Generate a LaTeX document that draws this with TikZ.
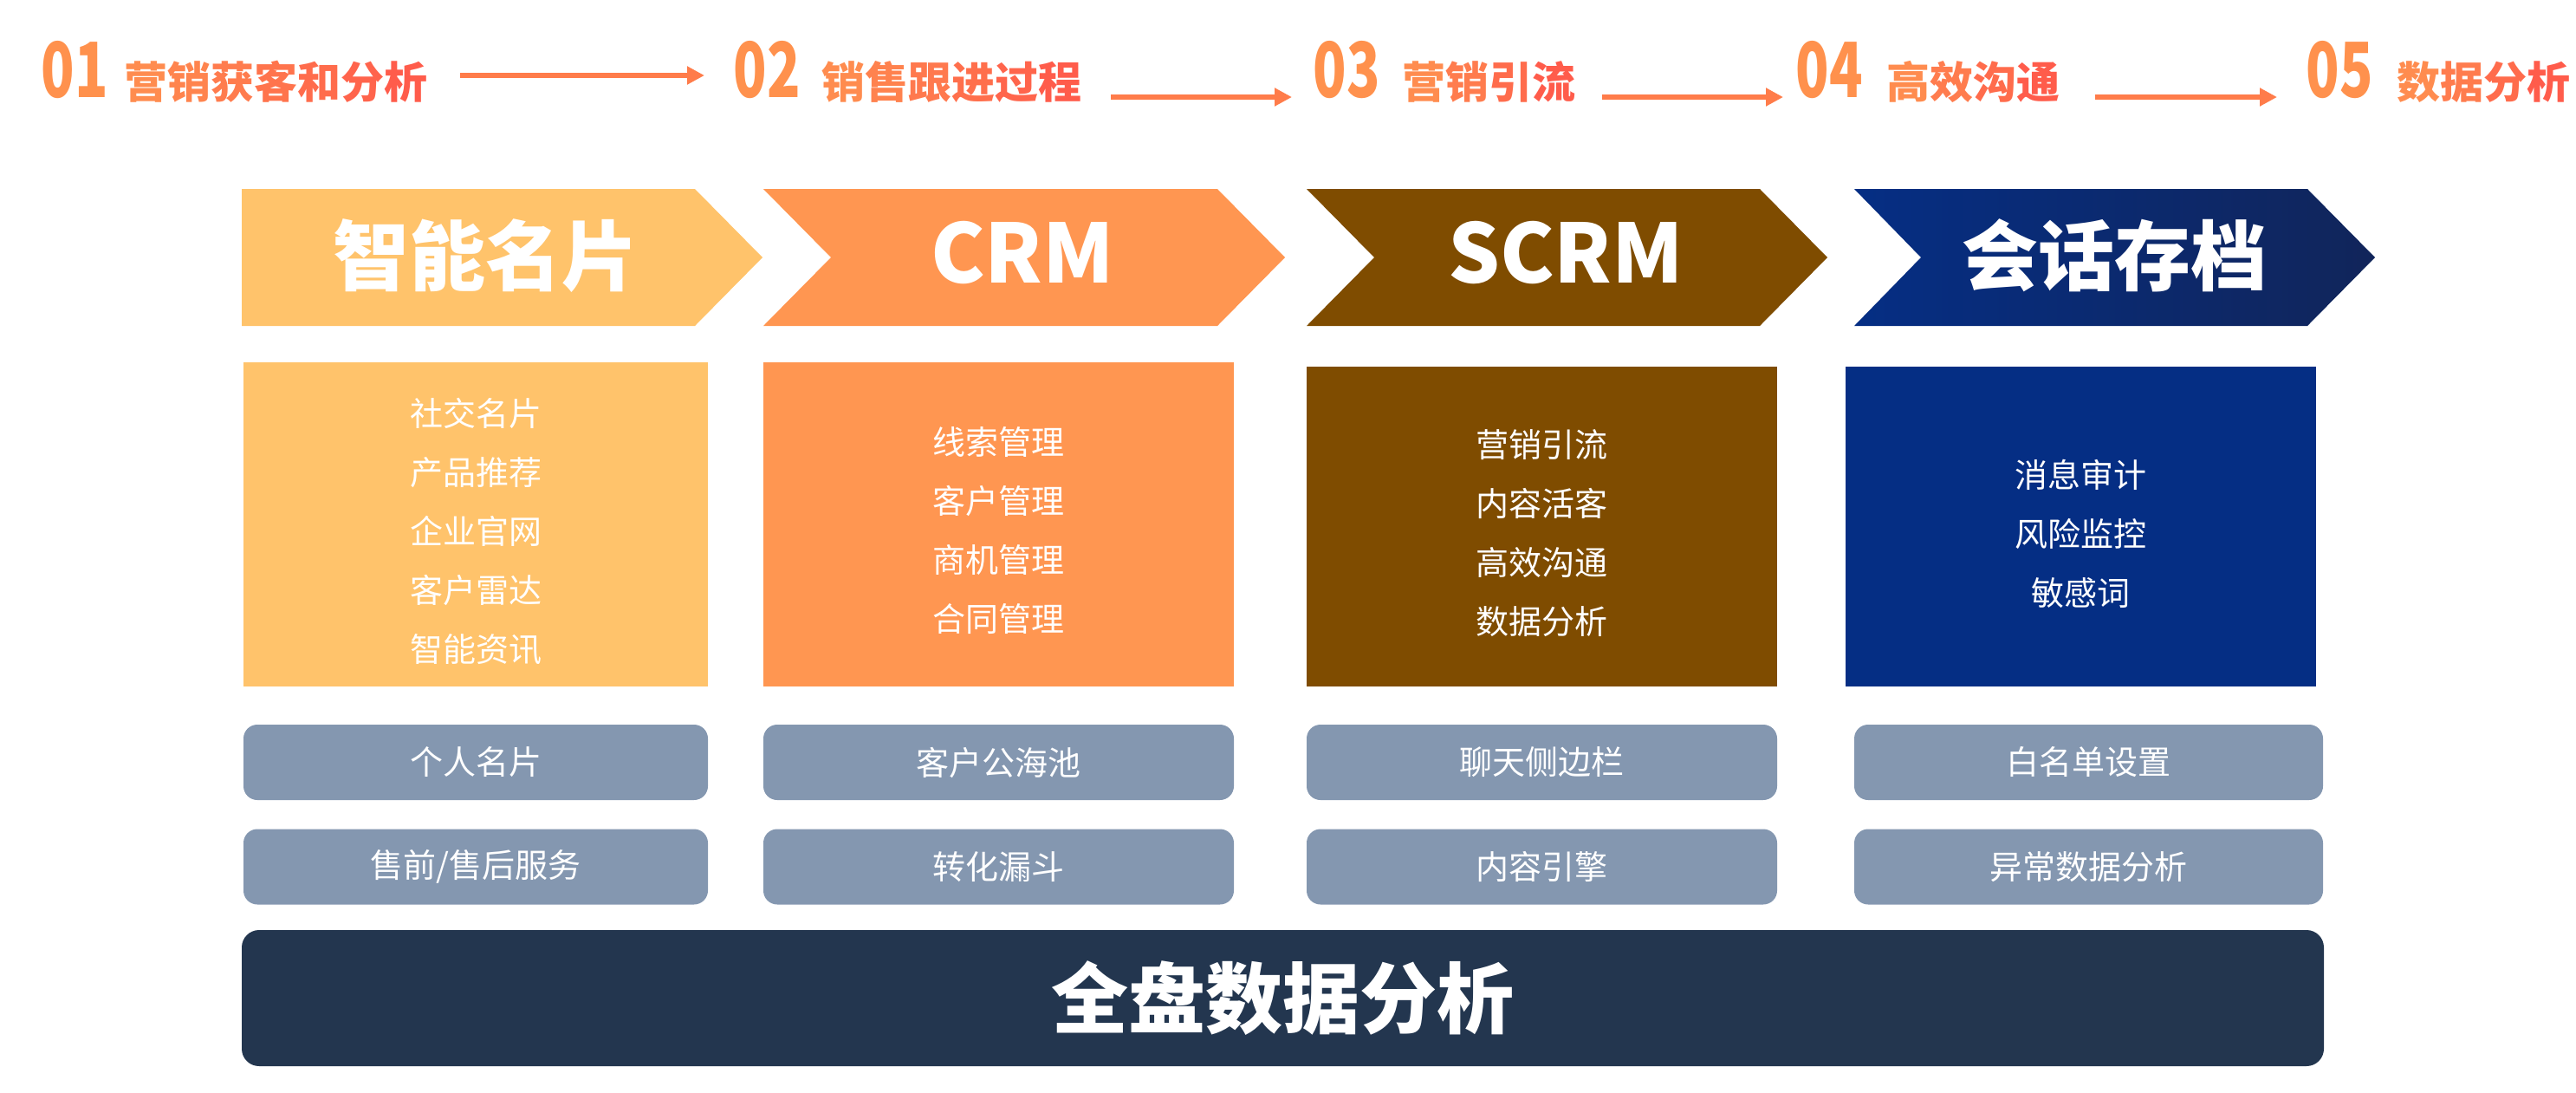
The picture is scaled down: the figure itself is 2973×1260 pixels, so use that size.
\documentclass[tikz,border=0pt]{standalone}
\usepackage{fontspec}
\setmainfont{Noto Sans CJK SC}
\usetikzlibrary{arrows.meta}
\definecolor{numc}{HTML}{FF914D}
\definecolor{gA}{HTML}{FF8C4F}
\definecolor{gB}{HTML}{FF5C4B}
\definecolor{arrc}{HTML}{FF7C4A}
\definecolor{yel}{HTML}{FFC36B}
\definecolor{org}{HTML}{FF9651}
\definecolor{brn}{HTML}{7F4C00}
\definecolor{navy}{HTML}{052E84}
\definecolor{navyR}{HTML}{11255A}
\definecolor{btnc}{HTML}{8497B0}
\definecolor{barc}{HTML}{23364F}
\newcommand{\gch}[2]{\textcolor{gB!#1!gA}{#2}}
\begin{document}
\begin{tikzpicture}[x=0.5pt,y=-0.5pt,
  num/.style={text=numc, font=\fontsize{44}{44}\selectfont\bfseries, inner sep=0},
  ttl/.style={font=\fontsize{25}{25}\selectfont\bfseries, inner sep=0},
  flow/.style={draw=arrc, line width=3pt, -{Triangle[length=10pt,width=10pt]}},
  chevtitle/.style={text=white, font=\fontsize{44}{44}\selectfont\bfseries, inner sep=0},
  latintitle/.style={text=white, font=\fontsize{47}{47}\selectfont\bfseries, inner sep=0},
  item/.style={text=white, font=\fontsize{19}{34}\selectfont, align=center, inner sep=0},
  panel/.style={inner sep=0, minimum height=187pt},
  btn/.style={fill=btnc, rounded corners=8pt, text=white, font=\fontsize{19}{19}\selectfont, inner sep=0, minimum height=43.5pt},
  bigbar/.style={fill=barc, rounded corners=10pt, text=white, font=\fontsize{44.5}{44.5}\selectfont\bfseries, inner sep=0}
]
\useasboundingbox (0,0) rectangle (2973,1260);

% ---- top process row ----
\node[num] (n1) at (86.5,81) {\scalebox{0.72}[1]{01}};
\node[ttl] (t1) at (318.5,94.5) {\gch{0}{营}\gch{17}{销}\gch{33}{获}\gch{50}{客}\gch{67}{和}\gch{83}{分}\gch{100}{析}};
\node[num] (n2) at (885,81) {\scalebox{0.72}[1]{02}};
\node[ttl] (t2) at (1098,94.5) {\gch{0}{销}\gch{20}{售}\gch{40}{跟}\gch{60}{进}\gch{80}{过}\gch{100}{程}};
\node[num] (n3) at (1554.5,81) {\scalebox{0.72}[1]{03}};
\node[ttl] (t3) at (1718,94.5) {\gch{0}{营}\gch{33}{销}\gch{67}{引}\gch{100}{流}};
\node[num] (n4) at (2111,81) {\scalebox{0.72}[1]{04}};
\node[ttl] (t4) at (2277.5,94.5) {\gch{0}{高}\gch{33}{效}\gch{67}{沟}\gch{100}{通}};
\node[num] (n5) at (2700,81) {\scalebox{0.72}[1]{05}};
\node[ttl] (t5) at (2866,94.5) {\gch{0}{数}\gch{33}{据}\gch{67}{分}\gch{100}{析}};

\coordinate (a1s) at (531,87);   \coordinate (a1e) at (813,87);
\coordinate (a2s) at (1282,112); \coordinate (a2e) at (1491,112);
\coordinate (a3s) at (1849,112); \coordinate (a3e) at (2058,112);
\coordinate (a4s) at (2418,112); \coordinate (a4e) at (2628,112);
\draw[flow] (a1s) -- (a1e);
\draw[flow] (a2s) -- (a2e);
\draw[flow] (a3s) -- (a3e);
\draw[flow] (a4s) -- (a4e);

% ---- chevrons ----
\path[fill=yel] (279,218) -- (802,218) -- (880,297) -- (802,376) -- (279,376) -- cycle;
\path[fill=org] (881,218) -- (1405,218) -- (1483,297) -- (1405,376) -- (881,376) -- (959,297) -- cycle;
\path[fill=brn] (1508,218) -- (2031,218) -- (2109,297) -- (2031,376) -- (1508,376) -- (1586,297) -- cycle;
\path[left color=navy, right color=navyR] (2140,218) -- (2663,218) -- (2741,297) -- (2663,376) -- (2140,376) -- (2217,297) -- cycle;
\node[chevtitle] (c1) at (560,295) {智能名片};
\node[latintitle] (c2) at (1180,292) {CRM};
\node[latintitle] (c3) at (1807,292) {SCRM};
\node[chevtitle] (c4) at (2440,295) {会话存档};

% ---- panels ----
\node[panel, fill=yel, minimum width=268pt] (b1) at (549,605) {};
\node[panel, fill=org, minimum width=271.5pt] (b2) at (1152.5,605) {};
\node[panel, fill=brn, minimum width=271.5pt, minimum height=184.5pt] (b3) at (1779.5,607.5) {};
\node[panel, fill=navy, minimum width=271.5pt, minimum height=184.5pt] (b4) at (2401.5,607.5) {};
\node[item] (i1) at (549,613) {社交名片\\产品推荐\\企业官网\\客户雷达\\智能资讯};
\node[item] (i2) at (1152.5,612) {线索管理\\客户管理\\商机管理\\合同管理};
\node[item] (i3) at (1779.5,615.5) {营销引流\\内容活客\\高效沟通\\数据分析};
\node[item] (i4) at (2401.5,616) {消息审计\\风险监控\\敏感词};

% ---- buttons ----
\node[btn, minimum width=268pt] (p11) at (549,879.5) {个人名片};
\node[btn, minimum width=268pt] (p12) at (549,1000) {售前/售后服务};
\node[btn, minimum width=271.5pt] (p21) at (1152.5,879.5) {客户公海池};
\node[btn, minimum width=271.5pt] (p22) at (1152.5,1000) {转化漏斗};
\node[btn, minimum width=271.5pt] (p31) at (1779.5,879.5) {聊天侧边栏};
\node[btn, minimum width=271.5pt] (p32) at (1779.5,1000) {内容引擎};
\node[btn, minimum width=270.5pt] (p41) at (2410.5,879.5) {白名单设置};
\node[btn, minimum width=270.5pt] (p42) at (2410.5,1000) {异常数据分析};

% ---- bottom bar ----
\node[bigbar, minimum width=1201.5pt, minimum height=78.5pt] (all) at (1480.5,1151.5) {全盘数据分析};
\end{tikzpicture}
\end{document}
